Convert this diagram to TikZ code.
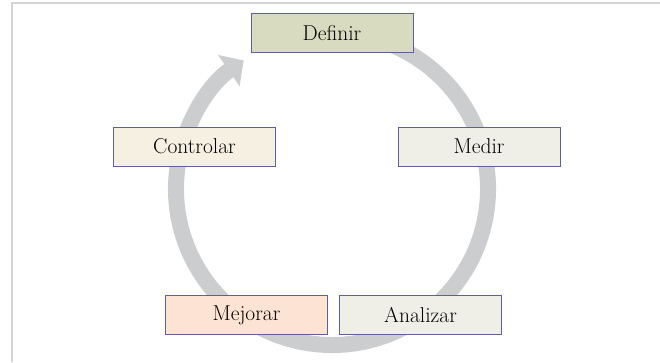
\documentclass[tikz,border=0pt]{standalone}
\usetikzlibrary{arrows.meta}
\definecolor{framegray}{HTML}{D4D4D4}
\definecolor{arcgray}{HTML}{CCCDCF}
\definecolor{boxline}{HTML}{5C5FA0}
\definecolor{fdef}{HTML}{D8DBBF}
\definecolor{fctl}{HTML}{F5F0E1}
\definecolor{fmed}{HTML}{EFEEE7}
\definecolor{fmej}{HTML}{FDE3D4}
\begin{document}
\begin{tikzpicture}[x=1pt,y=1pt,
  stagebox/.style={draw=boxline, line width=1pt, minimum width=162pt, minimum height=39pt, inner sep=0pt, font=\fontsize{21.5}{24}\selectfont},
  cyclearc/.style={draw=arcgray, line width=16pt, -{Triangle[width=37pt,length=18pt]}}]
\useasboundingbox (0,0) rectangle (660,362);
\draw[framegray, line width=1.5pt] (12,0) -- (12,359) -- (660,359);
\coordinate (c) at (332,173);
\draw[cyclearc] ([shift={(80:156)}]c) arc[start angle=80, end angle=-235.5, radius=156];
\node[stagebox, fill=fdef] (definir) at (332,328.5) {Definir};
\node[stagebox, fill=fctl] (controlar) at (194.5,215.5) {Controlar};
\node[stagebox, fill=fmed] (medir) at (479,215.5) {Medir};
\node[stagebox, fill=fmej] (mejorar) at (246.5,47) {Mejorar};
\node[stagebox, fill=fmed] (analizar) at (420.5,47) {Analizar};
\end{tikzpicture}
\end{document}
